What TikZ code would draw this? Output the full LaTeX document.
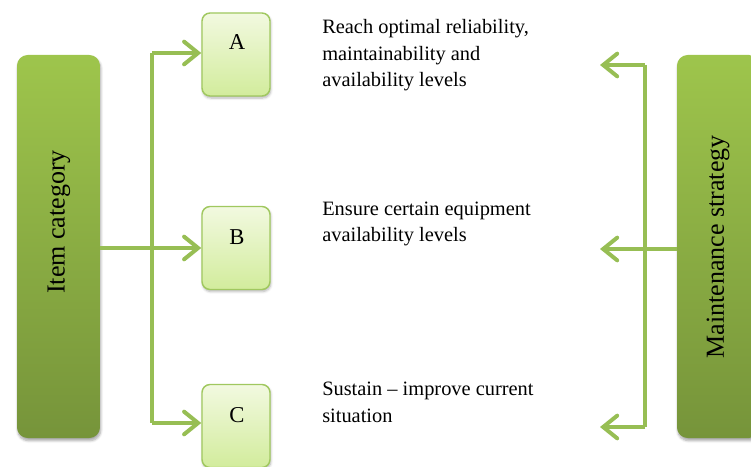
\documentclass[tikz,border=0pt]{standalone}
\usepackage{fontspec}
\setmainfont{Liberation Serif}
\usetikzlibrary{arrows.meta,shadows.blur}
\definecolor{lineGreen}{RGB}{151,190,84}
\definecolor{bigTop}{RGB}{158,197,76}
\definecolor{bigBottom}{RGB}{118,148,58}
\definecolor{smallTop}{RGB}{242,249,224}
\definecolor{smallBottom}{RGB}{210,236,156}
\definecolor{smallBorder}{RGB}{160,200,95}
\tikzset{
  bigbox/.style={rounded corners=8pt, minimum width=62.25pt, minimum height=287.25pt,
    top color=bigTop, bottom color=bigBottom, draw=none,
    blur shadow={shadow xshift=0.6pt, shadow yshift=-2pt, shadow blur steps=6, shadow opacity=35}},
  smallbox/.style={rounded corners=6pt, minimum width=51pt, minimum height=62.25pt,
    top color=smallTop, bottom color=smallBottom, draw=smallBorder, line width=1.1pt,
    blur shadow={shadow xshift=0.6pt, shadow yshift=-1.5pt, shadow blur steps=5, shadow opacity=30}},
  conn/.style={draw=lineGreen, line width=3pt},
  arr/.style={conn, -{Straight Barb[length=10.5pt, width=17pt, line cap=round]}},
  txt/.style={font=\fontsize{15.3}{20}\selectfont, inner sep=0pt, align=left},
  lbl/.style={font=\fontsize{17}{20}\selectfont, inner sep=0pt},
  sidelbl/.style={font=\fontsize{19.5}{22}\selectfont, inner sep=0pt, rotate=90, anchor=center},
}
\begin{document}
\begin{tikzpicture}[x=0.75pt, y=-0.75pt]
\useasboundingbox (0,0) rectangle (751,467);
\clip (0,0) rectangle (751,467);

% category and strategy columns
\node[bigbox] (cat) at (58.5,246.5) {};
\node[sidelbl] (catlab) at (59,222) {Item category};
\node[bigbox] (strat) at (718.5,246.5) {};
\node[sidelbl] (stratlab) at (718,247) {Maintenance strategy};

% the three item classes
\node[smallbox] (A) at (236,54.5) {};
\node[lbl, anchor=base] (Alab) at (237,50) {A};
\node[smallbox] (B) at (236,248) {};
\node[lbl, anchor=base] (Blab) at (237,244) {B};
\node[smallbox] (C) at (236,426) {};
\node[lbl, anchor=base] (Clab) at (237,422) {C};

% descriptions (anchored on the last line's baseline)
\node[txt, anchor=base west] (tA) at (322,87) {Reach optimal reliability,\\maintainability and\\availability levels};
\node[txt, anchor=base west] (tB) at (322,242) {Ensure certain equipment\\availability levels};
\node[txt, anchor=base west] (tC) at (322,422) {Sustain -- improve current\\situation};

% left distribution bus
\coordinate (lTop) at (152,53);
\coordinate (lBot) at (152,423);
\draw[conn] (lTop) -- (lBot);
\draw[arr] (cat.east |- B.west) -- (B.west);
\draw[arr] (lTop) -- (lTop -| A.west);
\draw[arr] (lBot) -- (lBot -| C.west);

% right distribution bus
\coordinate (rTop) at (645,65);
\coordinate (rBot) at (645,427);
\coordinate (rTopEnd) at (600,65);
\coordinate (rMidEnd) at (600,249);
\coordinate (rBotEnd) at (600,427);
\draw[conn] (rTop) -- (rBot);
\draw[arr] (strat.west |- rMidEnd) -- (rMidEnd);
\draw[arr] (rTop) -- (rTopEnd);
\draw[arr] (rBot) -- (rBotEnd);
\end{tikzpicture}
\end{document}
